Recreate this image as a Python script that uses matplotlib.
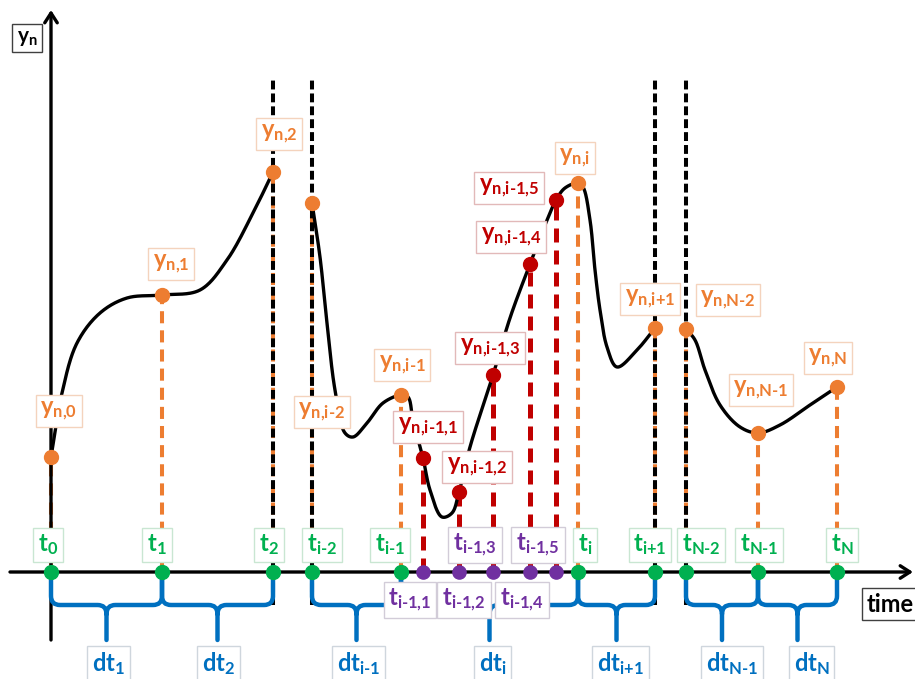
import numpy as np
import matplotlib
matplotlib.use("Agg")
import matplotlib.pyplot as plt
from matplotlib.path import Path
from matplotlib.patches import PathPatch

plt.rcParams["font.family"] = ["Lato", "DejaVu Sans"]
plt.rcParams["font.weight"] = "bold"
plt.rcParams["mathtext.fontset"] = "custom"
plt.rcParams["mathtext.rm"] = "Lato:bold"
plt.rcParams["mathtext.it"] = "Lato:bold"
plt.rcParams["mathtext.bf"] = "Lato:bold"

# ---- data -------------------------------------------------------------
# main time nodes and the solution value at each node
t_names = ["0", "1", "2", "i-2", "i-1", "i", "i+1", "N-2", "N-1", "N"]
t_main = [0, 111, 222, 261, 350, 527, 604, 635, 707, 786]
y_main = [115, 277, 400, 369, 177, 389, 244, 243, 139, 185]

# intermediate stages inside the step dt_i
sub_names = ["i-1,1", "i-1,2", "i-1,3", "i-1,4", "i-1,5"]
t_sub = [372, 408, 442, 479, 505]
y_sub = [114, 80, 197, 308, 372]

# the trajectory y_n(t), three pieces separated by the breaks
curve_a_t = [0, 11, 26, 49, 76, 111, 149, 176, 202, 222]
curve_a_y = [115, 179, 229, 259, 274, 277, 282, 312, 359, 400]
curve_b_t = [261, 269, 276, 284, 294, 302, 316, 332, 350, 357, 362, 372,
             379, 391, 401, 408, 419, 442, 459, 479, 494, 505, 514, 527,
             532, 539, 544, 549, 556, 566, 586, 604]
curve_b_y = [369, 315, 249, 182, 139, 135, 149, 169, 177, 175, 152, 114,
             82, 55, 59, 80, 125, 197, 254, 308, 347, 372, 384, 389,
             385, 352, 302, 262, 225, 205, 222, 244]
curve_c_t = [635, 644, 654, 669, 689, 707, 729, 759, 786]
curve_c_y = [243, 232, 202, 167, 145, 139, 147, 167, 185]

# step intervals (start node index, end node index) and their names
steps = [(0, 1), (1, 2), (3, 4), (4, 5), (5, 6), (7, 8), (8, 9)]
step_names = ["1", "2", "i-1", "i", "i+1", "N-1", "N"]

# where the time line is cut
break_idx = [2, 3, 6, 7]

ORANGE = "#ED7D31"
GREEN = "#00B050"
RED = "#C00000"
PURPLE = "#7030A0"
BLUE = "#0070C0"


def catmull_rom(xs, ys, n=30, alpha=0.5):
    pts = np.column_stack([xs, ys]).astype(float)
    p = np.vstack([2 * pts[0] - pts[1], pts, 2 * pts[-1] - pts[-2]])
    out = []
    for i in range(1, len(p) - 2):
        p0, p1, p2, p3 = p[i - 1], p[i], p[i + 1], p[i + 2]
        t0 = 0.0
        t1 = t0 + np.linalg.norm(p1 - p0) ** alpha
        t2 = t1 + np.linalg.norm(p2 - p1) ** alpha
        t3 = t2 + np.linalg.norm(p3 - p2) ** alpha
        t = np.linspace(t1, t2, n)[:, None]
        a1 = (t1 - t) / (t1 - t0) * p0 + (t - t0) / (t1 - t0) * p1
        a2 = (t2 - t) / (t2 - t1) * p1 + (t - t1) / (t2 - t1) * p2
        a3 = (t3 - t) / (t3 - t2) * p2 + (t - t2) / (t3 - t2) * p3
        b1 = (t2 - t) / (t2 - t0) * a1 + (t - t0) / (t2 - t0) * a2
        b2 = (t3 - t) / (t3 - t1) * a2 + (t - t1) / (t3 - t1) * a3
        c = (t2 - t) / (t2 - t1) * b1 + (t - t1) / (t2 - t1) * b2
        out.append(c if i == len(p) - 3 else c[:-1])
    c = np.vstack(out)
    return c[:, 0], c[:, 1]


fig = plt.figure(figsize=(9.15, 6.79), dpi=100)
ax = fig.add_axes([0, 0, 1, 1])
ax.set_xlim(-51, 864)
ax.set_ylim(-107, 572)
ax.axis("off")

# vertical drop lines from each value to the time axis
for t, y in zip(t_main, y_main):
    ax.plot([t, t], [0, y], color=ORANGE, lw=2.9, dashes=(3, 1.75), zorder=1,
            dash_capstyle="butt")
for t, y in zip(t_sub, y_sub):
    ax.plot([t, t], [0, y], color=RED, lw=3.6, dashes=(2.8, 1.6), zorder=1,
            dash_capstyle="butt")

# breaks of the time line
for k in break_idx:
    ax.plot([t_main[k], t_main[k]], [-33, 492], color="black", lw=2.9,
            dashes=(2.2, 1), zorder=2, dash_capstyle="butt")

# coordinate axes
ax.annotate("", xy=(0, 562), xytext=(0, -68),
            arrowprops=dict(arrowstyle="->,head_length=0.7,head_width=0.45",
                            lw=2.4, color="black", shrinkA=0, shrinkB=0),
            zorder=3)
ax.annotate("", xy=(862, 0), xytext=(-41, 0),
            arrowprops=dict(arrowstyle="->,head_length=0.7,head_width=0.45",
                            lw=2.4, color="black", shrinkA=0, shrinkB=0),
            zorder=3)


def brace(xa, xb, top=-3, bar=-33, tip=-68, r=9):
    xc = 0.5 * (xa + xb)
    verts = [(xa, top), (xa, bar + r), (xa, bar), (xa + r, bar),
             (xc - r, bar), (xc, bar), (xc, bar - r), (xc, tip),
             (xc, bar - r), (xc, bar), (xc + r, bar), (xb - r, bar),
             (xb, bar), (xb, bar + r), (xb, top)]
    codes = [Path.MOVETO, Path.LINETO, Path.CURVE3, Path.CURVE3,
             Path.LINETO, Path.CURVE3, Path.CURVE3, Path.LINETO,
             Path.MOVETO, Path.CURVE3, Path.CURVE3, Path.LINETO,
             Path.CURVE3, Path.CURVE3, Path.LINETO]
    ax.add_patch(PathPatch(Path(verts, codes), fill=False, ec=BLUE, lw=3.2,
                           zorder=3, capstyle="round", joinstyle="round"))


for a, b in steps:
    brace(t_main[a], t_main[b])

# trajectory
for xs, ys in [(curve_a_t, curve_a_y), (curve_b_t, curve_b_y),
               (curve_c_t, curve_c_y)]:
    cx, cy = catmull_rom(xs, ys)
    ax.plot(cx, cy, color="black", lw=2.4, zorder=4, solid_capstyle="round")

# node markers
ax.plot(t_main, y_main, "o", color=ORANGE, ms=10, zorder=5)
ax.plot(t_sub, y_sub, "o", color=RED, ms=10, zorder=5)
ax.plot(t_main, [0] * len(t_main), "o", color=GREEN, ms=10, zorder=5)
ax.plot(t_sub, [0] * len(t_sub), "o", color=PURPLE, ms=9.5, zorder=5)


def label(x, y, s, color, ec, size=17, ha="center"):
    ax.text(x, y, s, color=color, fontsize=size, fontweight="bold", ha=ha,
            va="center", zorder=6,
            bbox=dict(boxstyle="square,pad=0.2", fc="white", ec=ec, lw=1.0))


def sub(base, idx):
    return base + r"$_{\text{" + idx + "}}$"


# value labels (offsets in screen pixels)
y_off = [(8, 46), (9, 31), (6, 38), (10, -209), (1, 30), (-3, 25), (-5, 29),
         (42, 29), (3, 43), (-9, 29)]
for name, t, y, (dx, dy) in zip(t_names, t_main, y_main, y_off):
    label(t + dx, y + dy, sub("y", "n," + name), ORANGE, "#F4D3BD")

ys_off = [(5, 31), (18, 25), (-3, 27), (-19, 27), (-47, 12)]
for name, t, y, (dx, dy) in zip(sub_names, t_sub, y_sub, ys_off):
    label(t + dx, y + dy, sub("y", "n," + name), RED, "#E2B9B9")

# time labels
t_off = [-3, -5, -4, 10, -11, 7, -5, 15, 1, 5]
for name, t, dx in zip(t_names, t_main, t_off):
    label(t + dx, 27, sub("t", name), GREEN, "#C9E6D2")

ts_off = [(-13, -28), (5, -28), (-18, 27), (-8, -28), (-18, 27)]
for name, t, (dx, yy) in zip(sub_names, t_sub, ts_off):
    label(t + dx, yy, sub("t", name), PURPLE, "#D2CCD8")

# step labels
dt_off = [2, 1, 2, 3, 4, 10, 14]
for (a, b), name, dx in zip(steps, step_names, dt_off):
    label(0.5 * (t_main[a] + t_main[b]) + dx, -92, sub("dt", name), BLUE,
          "#CFD6DD")

# axis titles
label(-24, 534, sub("y", "n"), "black", "#404040", size=15)
label(816, -32, "time", "black", "#404040", size=17, ha="left")

fig.savefig("out.png", dpi=100)
